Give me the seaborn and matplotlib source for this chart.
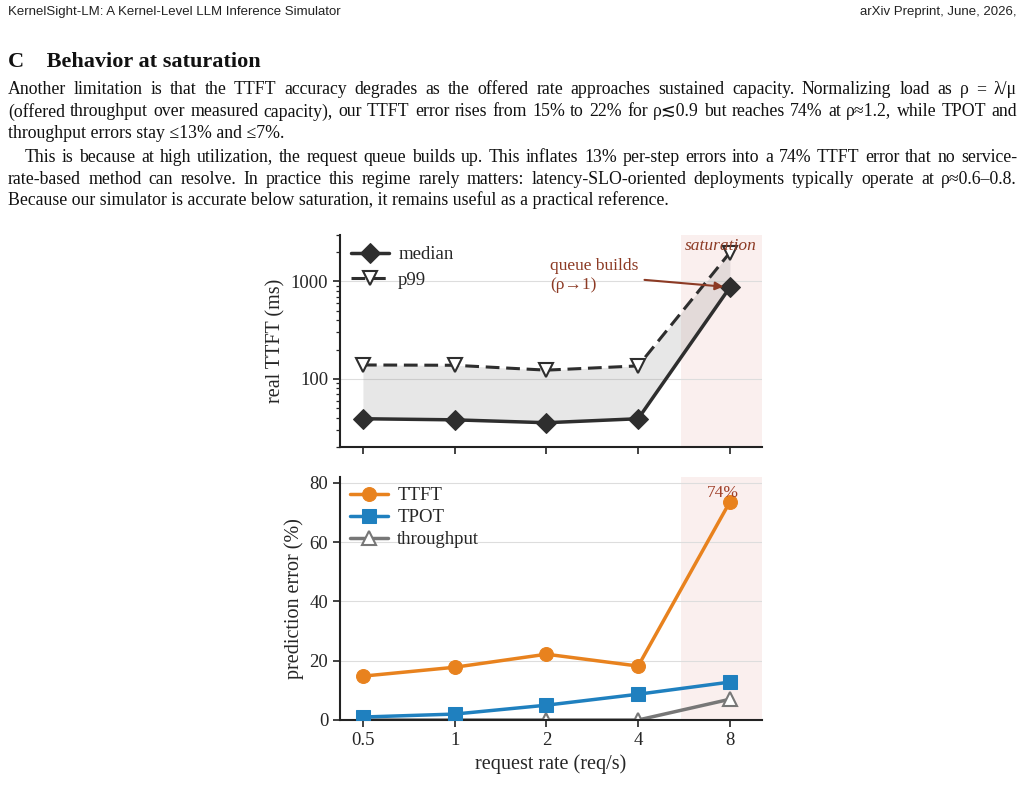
import matplotlib
matplotlib.use('Agg')
import matplotlib.pyplot as plt
import numpy as np
import pandas as pd
import seaborn as sns

# request rates (categorical x)
rates = ['0.5', '1', '2', '4', '8']
# real TTFT (ms)
ttft_median = [39, 38, 35.5, 39, 870]
ttft_p99 = [139, 138, 123, 136, 1980]
# prediction error (%)
err_ttft = [14.8, 17.8, 22.2, 18.2, 73.6]
err_tpot = [1.0, 2.0, 5.0, 8.7, 12.8]
err_thr = [0.0, 0.0, 0.0, 0.0, 7.0]

sns.set_theme(style='ticks')
plt.rcParams['font.family'] = ['Liberation Serif', 'DejaVu Serif', 'DejaVu Sans']

W, H = 1025, 786
fig = plt.figure(figsize=(W / 100, H / 100), dpi=100)
renderer = fig.canvas.get_renderer()

def ftext(x, y, s, **kw):
    return fig.text(x / W, 1 - y / H, s, va='center', ha='left', **kw)

def justified(x, y, s, right=1017, **kw):
    # spread words so the line fills the column, like the typeset page
    words = s.split(' ')
    widths = []
    for w in words:
        t = ftext(0, -100, w, **kw)
        widths.append(t.get_window_extent(renderer).width)
        t.remove()
    gap = (right - x - sum(widths)) / (len(words) - 1)
    cx = x
    for w, wd in zip(words, widths):
        ftext(cx, y, w, **kw)
        cx += wd + gap

# page header + body text
hdr = dict(family=['Liberation Sans Narrow', 'Liberation Sans', 'DejaVu Sans'], fontsize=9.5, color='#222222')
ftext(8, 12, 'KernelSight-LM: A Kernel-Level LLM Inference Simulator', **hdr)
fig.text(1017 / W, 1 - 12 / H, 'arXiv Preprint, June, 2026,', va='center', ha='right', **hdr)

ftext(8, 62, 'C    Behavior at saturation', fontsize=16, fontweight='bold', color='#111111')

bt = dict(fontsize=12.8, color='#111111')
justified(8, 90, 'Another limitation is that the TTFT accuracy degrades as the offered rate approaches sustained capacity. Normalizing load as ρ = λ/μ', **bt)
justified(8, 112, '(offered throughput over measured capacity), our TTFT error rises from 15% to 22% for ρ≲0.9 but reaches 74% at ρ≈1.2, while TPOT and', **bt)
ftext(8, 134, 'throughput errors stay ≤13% and ≤7%.', **bt)
justified(25, 157, 'This is because at high utilization, the request queue builds up. This inflates 13% per-step errors into a 74% TTFT error that no service-', **bt)
justified(8, 179, 'rate-based method can resolve. In practice this regime rarely matters: latency-SLO-oriented deployments typically operate at ρ≈0.6–0.8.', **bt)
ftext(8, 200, 'Because our simulator is accurate below saturation, it remains useful as a practical reference.', **bt)

# chart
x0, x1 = 340 / W, 762 / W
ax1 = fig.add_axes([x0, 1 - 447 / H, x1 - x0, (447 - 235) / H])
ax2 = fig.add_axes([x0, 1 - 720 / H, x1 - x0, (720 - 477) / H])

pos = np.arange(len(rates))
dark = '#2e2e2e'
sat_col = '#c0392b'
note_col = '#8c3a24'

df1 = pd.DataFrame({'pos': pos, 'median': ttft_median, 'p99': ttft_p99})
for ax in (ax1, ax2):
    ax.axvspan(3.47, 4.5, color=sat_col, alpha=0.08, lw=0, zorder=0)
    ax.grid(axis='y', color='#dddddd', lw=0.8)
    ax.set_axisbelow(True)

ax1.fill_between(pos, ttft_median, ttft_p99, color='#888888', alpha=0.2, lw=0, zorder=1)
sns.lineplot(data=df1, x='pos', y='median', ax=ax1, color=dark, lw=2.5, marker='D',
             markersize=10, markeredgecolor=dark, label='median', zorder=3)
sns.lineplot(data=df1, x='pos', y='p99', ax=ax1, color=dark, lw=2.2, marker='v',
             markersize=10, markerfacecolor='white', markeredgecolor=dark, markeredgewidth=1.5,
             label='p99', zorder=3)
ax1.lines[-1].set_dashes((4.5, 2.2))
ax1.set_yscale('log')
ax1.set_ylim(20, 3000)
ax1.set_yticks([100, 1000])
ax1.set_yticklabels(['100', '1000'])
ax1.set_ylabel('real TTFT (ms)', fontsize=14.5)
ax1.set_xlabel('')
ax1.text(3.9, 2300, 'saturation', color=note_col, style='italic', fontsize=12.5,
         ha='center', va='center', zorder=4)
ax1.annotate('queue builds\n(ρ→1)', xy=(3.96, 880), xytext=(2.04, 1150),
             color=note_col, fontsize=12.5, va='center', ha='left', linespacing=1.2,
             arrowprops=dict(arrowstyle='-|>', color=note_col, lw=1.5, mutation_scale=12))
leg1 = ax1.legend(loc='upper left', frameon=False, fontsize=13.5, handlelength=2.0,
                  handletextpad=0.5, borderaxespad=0.2, borderpad=0.4, labelspacing=0.45)
for h in leg1.legend_handles:
    if h.get_label() == 'p99':
        h.set_dashes((4.5, 2.2))

df2 = pd.DataFrame({'pos': pos, 'TTFT': err_ttft, 'TPOT': err_tpot, 'throughput': err_thr})
sns.lineplot(data=df2, x='pos', y='TTFT', ax=ax2, color='#e8821e', lw=2.5, marker='o',
             markersize=10, markeredgecolor='#e8821e', label='TTFT', zorder=3)
sns.lineplot(data=df2, x='pos', y='TPOT', ax=ax2, color='#1f80bf', lw=2.5, marker='s',
             markersize=9.5, markeredgecolor='#1f80bf', label='TPOT', zorder=3)
sns.lineplot(data=df2, x='pos', y='throughput', ax=ax2, color='#777777', lw=2.5, marker='^',
             markersize=10, markerfacecolor='white', markeredgecolor='#777777',
             markeredgewidth=1.5, label='throughput', zorder=2)
ax2.set_ylim(0, 82)
ax2.set_yticks([0, 20, 40, 60, 80])
ax2.set_ylabel('prediction error (%)', fontsize=14.5)
ax2.set_xlabel('request rate (req/s)', fontsize=14.5)
ax2.text(3.92, 76.6, '74%', color='#a0402a', fontsize=12.5, ha='center', va='center', zorder=4)
ax2.legend(loc='upper left', frameon=False, fontsize=13.5, handlelength=2.0,
           handletextpad=0.5, borderaxespad=0.2, borderpad=0.35, labelspacing=0.25)

for ax in (ax1, ax2):
    ax.set_xlim(-0.25, 4.35)
    ax.set_xticks(pos)
    ax.tick_params(axis='both', labelsize=13.5, width=1.2, length=5, color='#222222')
    sns.despine(ax=ax)
    for s in ('left', 'bottom'):
        ax.spines[s].set_linewidth(1.5)
        ax.spines[s].set_color('#222222')
ax1.tick_params(axis='y', which='minor', length=3, width=0.9)
ax1.set_xticklabels([])
ax2.set_xticklabels(rates)

fig.savefig('out.png', dpi=100)
